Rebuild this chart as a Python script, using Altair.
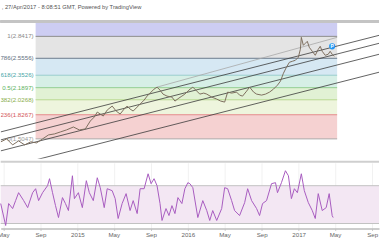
import altair as alt
import pandas as pd

# ---------------- data (dates as decimal years) ----------------
price_t = [2014.306, 2014.360, 2014.414, 2014.468, 2014.523, 2014.577, 2014.631, 2014.685, 2014.739, 2014.793,
           2014.847, 2014.901, 2014.964, 2015.018, 2015.072, 2015.117, 2015.153, 2015.180, 2015.207, 2015.234,
           2015.270, 2015.315, 2015.351, 2015.387, 2015.423, 2015.450, 2015.477, 2015.505, 2015.541, 2015.568,
           2015.604, 2015.631, 2015.667, 2015.694, 2015.721, 2015.748, 2015.775, 2015.811, 2015.856, 2015.883,
           2015.919, 2015.946, 2015.973, 2016.009, 2016.045, 2016.081, 2016.108, 2016.144, 2016.171, 2016.216,
           2016.261, 2016.297, 2016.333, 2016.360, 2016.396, 2016.441, 2016.468, 2016.495, 2016.532, 2016.559,
           2016.595, 2016.622, 2016.667, 2016.703, 2016.739, 2016.775, 2016.811, 2016.838, 2016.865, 2016.892,
           2016.919, 2016.946, 2016.973, 2017.000, 2017.018, 2017.027, 2017.045, 2017.063, 2017.081, 2017.099,
           2017.126, 2017.153, 2017.180, 2017.198, 2017.216, 2017.243, 2017.270, 2017.288, 2017.306, 2017.324]
price_v = [1.466, 1.505, 1.427, 1.479, 1.427, 1.466, 1.453, 1.505, 1.557, 1.570,
           1.596, 1.622, 1.660, 1.622, 1.635, 1.738, 1.790, 1.855, 1.829, 1.803,
           1.881, 1.933, 1.868, 1.829, 1.894, 1.933, 1.894, 1.868, 1.920, 1.959,
           2.011, 2.063, 2.115, 2.154, 2.180, 2.141, 2.089, 2.063, 2.050, 1.998,
           2.037, 2.063, 2.089, 2.141, 2.180, 2.128, 2.089, 2.102, 2.089, 2.050,
           2.024, 1.998, 1.985, 2.115, 2.102, 2.115, 2.076, 2.063, 2.128, 2.180,
           2.115, 2.089, 2.076, 2.089, 2.115, 2.154, 2.206, 2.258, 2.361, 2.439,
           2.504, 2.517, 2.530, 2.569, 2.673, 2.829, 2.725, 2.751, 2.777, 2.699,
           2.647, 2.595, 2.673, 2.712, 2.647, 2.595, 2.608, 2.647, 2.608, 2.582]

rsi_t = [2014.306, 2014.351, 2014.378, 2014.414, 2014.441, 2014.468, 2014.514, 2014.550, 2014.595, 2014.622,
         2014.649, 2014.685, 2014.730, 2014.748, 2014.775, 2014.802, 2014.829, 2014.865, 2014.892, 2014.919,
         2014.955, 2014.973, 2015.009, 2015.045, 2015.081, 2015.108, 2015.144, 2015.180, 2015.207, 2015.243,
         2015.270, 2015.315, 2015.342, 2015.369, 2015.405, 2015.441, 2015.477, 2015.505, 2015.541, 2015.568,
         2015.604, 2015.640, 2015.667, 2015.694, 2015.721, 2015.748, 2015.766, 2015.802, 2015.829, 2015.856,
         2015.883, 2015.910, 2015.946, 2015.973, 2016.000, 2016.018, 2016.045, 2016.090, 2016.135, 2016.171,
         2016.198, 2016.225, 2016.261, 2016.306, 2016.333, 2016.360, 2016.396, 2016.423, 2016.468, 2016.514,
         2016.541, 2016.577, 2016.622, 2016.649, 2016.676, 2016.712, 2016.757, 2016.793, 2016.811, 2016.847,
         2016.883, 2016.910, 2016.937, 2016.964, 2016.991, 2017.027, 2017.054, 2017.090, 2017.126, 2017.153,
         2017.180, 2017.216, 2017.252, 2017.279, 2017.306, 2017.315]
rsi_v = [51.1, 27.9, 51.1, 45.8, 54.2, 62.6, 54.2, 46.8, 62.6, 66.8,
         54.2, 62.6, 70.0, 77.4, 62.6, 48.9, 36.3, 57.4, 51.1, 43.7,
         80.5, 56.3, 62.6, 46.8, 75.3, 62.6, 54.2, 78.4, 67.9, 46.8,
         66.8, 64.7, 56.3, 35.3, 51.1, 61.6, 43.7, 54.2, 40.5, 66.8,
         66.8, 82.6, 72.1, 77.4, 70.0, 51.1, 33.2, 45.8, 38.4, 48.9,
         40.5, 57.4, 51.1, 66.8, 73.2, 72.1, 67.9, 36.3, 54.2, 43.7,
         33.2, 43.7, 33.2, 45.8, 67.9, 66.8, 54.2, 43.7, 38.4, 52.1,
         66.8, 54.2, 45.8, 38.4, 51.1, 54.2, 72.1, 73.2, 62.6, 73.2,
         85.8, 80.5, 56.3, 66.8, 62.6, 82.6, 64.7, 52.1, 43.7, 35.3,
         61.6, 43.7, 46.8, 61.6, 38.4, 36.3]

fib_labels = ["1(2.8417)", ".786(2.5556)", ".618(2.3526)", "0.5(2.1897)", ".382(2.0268)", ".236(1.8267)", "0(1.5047)"]
fib_prices = [2.8417, 2.556, 2.335, 2.173, 2.015, 1.820, 1.505]
zone_tops = [3.0234, 2.8417, 2.556, 2.335, 2.173, 2.015, 1.820]
zone_bottoms = [2.8417, 2.556, 2.335, 2.173, 2.015, 1.820, 1.505]
fib_start, fib_end = 2014.622, 2017.351

channel_t = [2014.306, 2017.730]
channel_p0 = [1.596, 1.492, 1.349, 1.115]
channel_p1 = [2.855, 2.751, 2.608, 2.374]

trend_t = [2015.721, 2017.351]
trend_p = [2.180, 2.829]

flag_t, flag_p = [2017.306], [2.712]

x_start, x_end = 2014.306, 2017.730
y_min, y_max = 1.2452, 3.0234
rsi_min, rsi_max = 24.7, 94.2
rsi_levels = [70, 30]

tick_dates = ["2014-05-01", "2014-09-01", "2015-01-01", "2015-05-01", "2015-09-01", "2016-01-01",
              "2016-05-01", "2016-09-01", "2017-01-01", "2017-05-01", "2017-09-01"]
title_text = ", 27/Apr/2017 - 8:08:51 GMT, Powered by TradingView"

# ---------------- styles ----------------
zone_colors = ["#cdcdf2", "#e4e4e4", "#d6e8f3", "#d6efe6", "#e1f1d4", "#eef5dd", "#f5d1d1"]
line_colors = ["#8c8c8c", "#6b7b8b", "#98cccc", "#92cf92", "#b7d98e", "#e48a8a", "#ababab"]
label_colors = ["#8a8a8a", "#5f7080", "#4aa6a6", "#5db35d", "#8aae4b", "#d45858", "#9a9a9a"]
FONT = "Liberation Sans"


def to_date(t):
    return pd.Timestamp("2015-01-01") + pd.to_timedelta((t - 2015.0) * 365.0, unit="D")


def dt(ts):
    return alt.DateTime(year=ts.year, month=ts.month, date=ts.day, hours=ts.hour)


xs = to_date(x_start)
xe = to_date(x_end)
xscale = alt.Scale(domain=[dt(xs), dt(xe)])
yscale = alt.Scale(domain=[y_min, y_max], zero=False, nice=False)
rscale = alt.Scale(domain=[rsi_min, rsi_max], zero=False, nice=False)

price_df = pd.DataFrame({"d": [to_date(t) for t in price_t], "p": price_v})
rsi_df = pd.DataFrame({"d": [to_date(t) for t in rsi_t], "v": rsi_v})
zone_df = pd.DataFrame({
    "d0": [to_date(fib_start)] * len(zone_tops),
    "d1": [to_date(fib_end)] * len(zone_tops),
    "top": zone_tops, "bottom": zone_bottoms, "c": zone_colors,
})
fib_df = pd.DataFrame({
    "d0": [to_date(fib_start)] * len(fib_prices),
    "d1": [to_date(fib_end)] * len(fib_prices),
    "p": fib_prices, "label": fib_labels, "lc": line_colors, "tc": label_colors,
})
ch_rows = []
for i, (a, b) in enumerate(zip(channel_p0, channel_p1)):
    ch_rows.append({"name": f"c{i}", "d": to_date(channel_t[0]), "p": a})
    ch_rows.append({"name": f"c{i}", "d": to_date(channel_t[1]), "p": b})
ch_df = pd.DataFrame(ch_rows)
trend_df = pd.DataFrame({"d": [to_date(t) for t in trend_t], "p": trend_p})
flag_df = pd.DataFrame({"d": [to_date(t) for t in flag_t], "p": flag_p})

X = lambda f: alt.X(f, type="temporal", scale=xscale, axis=None)
Y = lambda f: alt.Y(f, type="quantitative", scale=yscale, axis=None)

zones = alt.Chart(zone_df).mark_rect().encode(
    x=X("d0"), x2="d1", y=Y("top"), y2="bottom", color=alt.Color("c:N", scale=None))
fib_lines = alt.Chart(fib_df).mark_rule(strokeWidth=1).encode(
    x=X("d0"), x2="d1", y=Y("p"), color=alt.Color("lc:N", scale=None))
fib_text = alt.Chart(fib_df).mark_text(align="right", baseline="middle", dx=-2, fontSize=6.2,
                                       font=FONT, clip=True).encode(
    x=X("d0"), y=Y("p"), text="label:N", color=alt.Color("tc:N", scale=None))
channels = alt.Chart(ch_df).mark_line(color="#3a3a3a", strokeWidth=0.8, clip=True).encode(
    x=X("d"), y=Y("p"), detail="name:N")
trend = alt.Chart(trend_df).mark_line(color="#a8a8a8", strokeWidth=0.8, clip=True).encode(
    x=X("d"), y=Y("p"))
price = alt.Chart(price_df).mark_line(color="#7d6e5e", strokeWidth=1, clip=True).encode(
    x=X("d"), y=Y("p"))
flag = alt.Chart(flag_df).mark_circle(size=38, color="#2196f3", opacity=1).encode(x=X("d"), y=Y("p"))
flag_txt = alt.Chart(flag_df).mark_text(text="P", color="white", fontSize=5, fontWeight="bold",
                                        font=FONT).encode(x=X("d"), y=Y("p"))
top_rule = alt.Chart(price_df).mark_rule(color="#c4c4c4", strokeWidth=1.5).encode(
    x=alt.value(0), x2=alt.value(380), y=alt.value(-1))
title = alt.Chart(pd.DataFrame({"t": [title_text]})).mark_text(
    align="left", baseline="middle", fontSize=5.8, color="#555555", font=FONT).encode(
    x=alt.value(1), y=alt.value(-15), text="t:N")

main = alt.layer(zones, fib_lines, fib_text, channels, trend, price, flag, flag_txt, top_rule, title).properties(
    width=380, height=137)

band_df = pd.DataFrame({"hi": [rsi_levels[0]], "lo": [rsi_levels[1]]})
lvl_df = pd.DataFrame({"v": rsi_levels})
band = alt.Chart(band_df).mark_rect(color="#f3e7f3").encode(
    x=alt.value(0), x2=alt.value(380),
    y=alt.Y("hi:Q", scale=rscale, axis=None), y2="lo")
band_lines = alt.Chart(lvl_df).mark_rule(color="#c2c2c2", strokeWidth=1).encode(
    x=alt.value(0), x2=alt.value(380), y=alt.Y("v:Q", scale=rscale, axis=None))
rsi_line = alt.Chart(rsi_df).mark_line(color="#a75cc0", strokeWidth=1).encode(
    x=alt.X("d:T", scale=xscale,
            axis=alt.Axis(values=[dt(pd.Timestamp(s)) for s in tick_dates],
                          labelExpr="month(datum.value) == 0 ? timeFormat(datum.value, '%Y') : timeFormat(datum.value, '%b')",
                          title=None, labelFontSize=6.2, labelFont=FONT, labelColor="#666666",
                          labelOverlap=False, labelPadding=1, tickSize=2, tickColor="#cccccc",
                          domainColor="#bdbdbd", domainWidth=1.5, grid=True, gridColor="#f1f1f1")),
    y=alt.Y("v:Q", scale=rscale, axis=None))
sep = alt.Chart(band_df).mark_rule(color="#cfcfcf", strokeWidth=2).encode(
    x=alt.value(0), x2=alt.value(380), y=alt.value(-1))

rsi = alt.layer(band, band_lines, rsi_line, sep).properties(width=380, height=66)

chart = alt.vconcat(main, rsi, spacing=2).properties(
    padding={"left": -3.3, "right": 0, "top": 4, "bottom": 0}
).configure_view(stroke=None)

chart.save("out.html", embed_options={"renderer": "svg", "actions": False})
